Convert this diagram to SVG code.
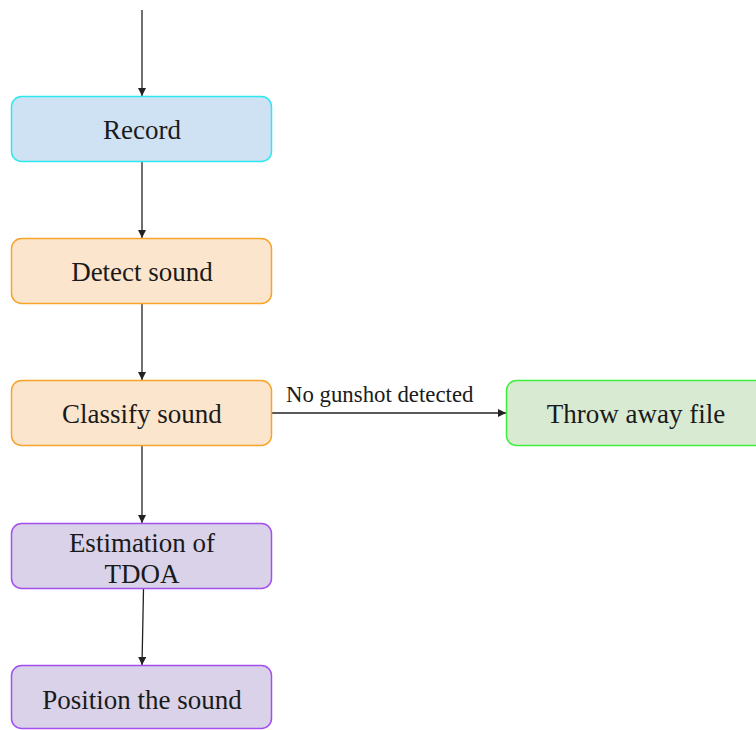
<svg xmlns="http://www.w3.org/2000/svg" width="756" height="730" viewBox="0 0 756 730">
  <style>
    .box { stroke-width: 1.5; }
    .blue { fill: #cfe2f3; stroke: #2ee8f0; }
    .orange { fill: #fce5cd; stroke: #f6a42b; }
    .purple { fill: #d9d2e9; stroke: #a54ff0; }
    .green { fill: #d9ead3; stroke: #3cf03c; }
    .label { font-family: "Liberation Serif", "Times New Roman", serif; font-size: 27px; fill: #1a1a1a; text-anchor: middle; }
    .edge-label { font-family: "Liberation Serif", "Times New Roman", serif; font-size: 22.8px; fill: #1a1a1a; }
    .edge { stroke: #222; stroke-width: 1.3; fill: none; marker-end: url(#arrow); }
  </style>
  <defs>
    <marker id="arrow" viewBox="0 0 10 10" refX="10" refY="5" markerWidth="8" markerHeight="8" markerUnits="userSpaceOnUse" orient="auto">
      <path d="M0,0 L10,5 L0,10 z" fill="#222"/>
    </marker>
  </defs>

  <g id="connectors">
    <line class="edge" x1="142" y1="10" x2="142" y2="96"/>
    <line class="edge" x1="142" y1="162" x2="142" y2="238"/>
    <line class="edge" x1="142" y1="304" x2="142" y2="380"/>
    <line class="edge" x1="142" y1="446" x2="142" y2="523"/>
    <line class="edge" x1="143.5" y1="589" x2="142" y2="665"/>
    <line class="edge" x1="272" y1="413" x2="506" y2="413"/>
    <text class="edge-label" x="286" y="402">No gunshot detected</text>
  </g>

  <g id="record">
    <rect class="box blue" x="11.5" y="96.5" width="260" height="65" rx="10"/>
    <text class="label" x="142" y="139">Record</text>
  </g>

  <g id="detect">
    <rect class="box orange" x="11.5" y="238.5" width="260" height="65" rx="10"/>
    <text class="label" x="142" y="281">Detect sound</text>
  </g>

  <g id="classify">
    <rect class="box orange" x="11.5" y="380.5" width="260" height="65" rx="10"/>
    <text class="label" x="142" y="423">Classify sound</text>
  </g>

  <g id="throw">
    <rect class="box green" x="506.5" y="380.5" width="260" height="65" rx="10"/>
    <text class="label" x="636" y="423">Throw away file</text>
  </g>

  <g id="tdoa">
    <rect class="box purple" x="11.5" y="523.5" width="260" height="65" rx="10"/>
    <text class="label" x="142" y="552">Estimation of</text>
    <text class="label" x="142" y="583">TDOA</text>
  </g>

  <g id="position">
    <rect class="box purple" x="11.5" y="665.5" width="260" height="63" rx="10"/>
    <text class="label" x="142" y="709">Position the sound</text>
  </g>
</svg>
